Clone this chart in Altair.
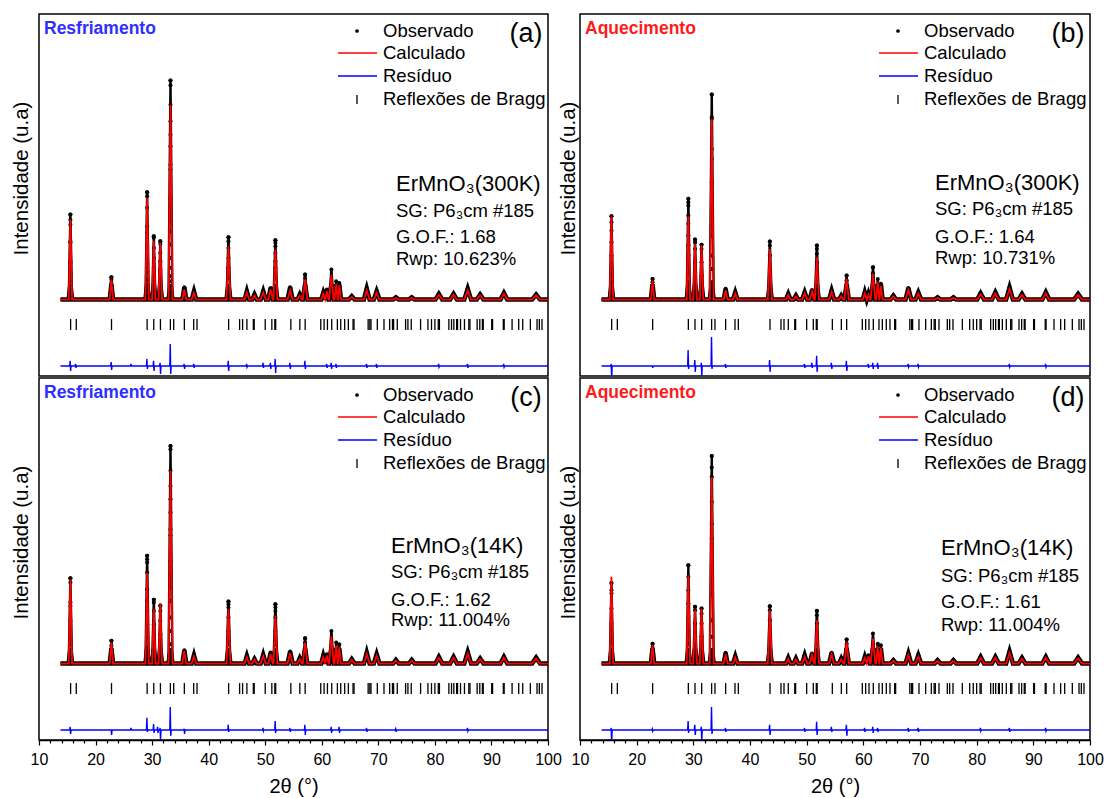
import altair as alt
import pandas as pd

FONT = "Liberation Sans, Arial, sans-serif"

# ---- peak positions (2theta) and half base widths ----
PEAKS = [15.55, 22.8, 29.12, 30.3, 31.45, 33.25, 35.7, 37.4, 43.5, 46.75, 48.1, 49.65,
         50.95, 51.8, 54.4, 56.1, 57.05, 60.25, 60.9, 61.7, 62.55, 63.1, 65.3, 67.95,
         69.7, 73.1, 75.9, 80.7, 83.3, 85.8, 88.0, 92.2, 97.9]
WIDTHS = [0.3, 0.3, 0.3, 0.3, 0.3, 0.35, 0.35, 0.4, 0.35, 0.4, 0.4, 0.45,
          0.4, 0.35, 0.45, 0.4, 0.4, 0.35, 0.3, 0.4, 0.3, 0.3, 0.5, 0.5,
          0.5, 0.5, 0.5, 0.6, 0.6, 0.6, 0.6, 0.6, 0.7]

# ---- peak intensities (arbitrary units) ----
OBS_A = [388, 102, 490, 289, 266, 1000, 56, 38, 285, 38, 23, 38, 53, 271, 56, 23, 114,
         30, 46, 137, 84, 76, 15, 50, 38, 10, 10, 26, 26, 50, 23, 30, 23]
CALC_A = [365, 91, 464, 266, 259, 890, 46, 30, 243, 32, 18, 32, 46, 228, 42, 18, 91,
          26, 40, 114, 72, 66, 12, 42, 32, 8, 8, 22, 22, 42, 19, 26, 19]
OBS_B = [380, 94, 460, 274, 250, 936, 49, 33, 265, 26, 18, 33, 44, 247, 41, 18, 110,
         33, 26, 148, 94, 72, 18, 53, 33, 10, 10, 29, 33, 56, 26, 33, 26]
CALC_B = [380, 87, 380, 254, 247, 825, 42, 28, 231, 22, 15, 28, 38, 193, 35, 15, 94,
          28, 22, 117, 80, 62, 15, 45, 28, 8, 8, 25, 28, 48, 22, 28, 22]
OBS_C = [390, 104, 492, 291, 265, 994, 61, 38, 283, 35, 20, 40, 50, 271, 55, 24, 116,
         35, 43, 149, 96, 88, 20, 50, 43, 17, 17, 30, 30, 53, 23, 30, 27]
CALC_C = [385, 97, 416, 248, 275, 880, 58, 32, 248, 30, 17, 34, 43, 218, 47, 20, 96,
          30, 37, 126, 82, 75, 17, 43, 37, 14, 14, 26, 26, 45, 20, 26, 23]
OBS_D = [368, 91, 449, 259, 251, 948, 49, 33, 262, 26, 23, 38, 46, 241, 49, 23, 110,
         30, 38, 137, 91, 84, 15, 46, 38, 15, 15, 30, 30, 56, 26, 30, 27]
CALC_D = [396, 84, 403, 244, 251, 852, 42, 28, 244, 22, 19, 32, 40, 198, 42, 19, 99,
          26, 32, 114, 78, 72, 13, 40, 32, 13, 13, 26, 26, 48, 22, 26, 23]

# ---- observed points on the flanks of the strong peaks ----
DOTS_A = [(15.55, [388, 365, 342, 266, 259, 175, 167, 122, 84, 38]),
          (22.8, [102, 91, 76, 53, 30]),
          (29.12, [490, 472, 419, 335, 304, 244, 205, 160, 129, 91, 68]),
          (30.3, [289, 282, 236, 190, 145, 99, 53]),
          (31.45, [266, 254, 213, 175, 137, 84, 38]),
          (33.25, [1000, 979, 890, 814, 753, 700, 616, 594, 461, 358, 312, 251, 190, 145, 107, 84]),
          (43.5, [285, 266, 236, 190, 145, 99, 53]),
          (51.8, [271, 259, 244, 213, 175, 145, 99, 53]),
          (57.05, [114, 99, 68, 38])]
DOTS_B = [(15.55, [380, 353, 315, 262, 201, 140, 79, 33]),
          (22.8, [94, 79, 56, 33]),
          (29.12, [460, 444, 429, 384, 346, 292, 247, 201, 140, 79]),
          (30.3, [274, 262, 231, 170, 110, 64]),
          (31.45, [250, 231, 170, 110, 49]),
          (33.25, [936, 833, 825, 688, 642, 536, 414, 292, 201, 140, 79]),
          (43.5, [265, 247, 201, 140, 79, 33]),
          (51.8, [247, 231, 209, 170, 110, 64]),
          (57.05, [110, 87, 49]),
          (61.7, [148, 120])]
DOTS_C = [(15.55, [390, 370, 279, 263, 195, 119, 88, 43]),
          (22.8, [104, 81, 43]),
          (29.12, [492, 476, 461, 416, 339, 286, 240, 180, 119, 73]),
          (30.3, [291, 279, 240, 180, 119, 58]),
          (31.45, [263, 240, 195, 134, 73]),
          (33.25, [994, 979, 880, 811, 750, 690, 613, 586, 469, 347, 286, 210, 149, 88, 43]),
          (43.5, [283, 271, 256, 210, 149, 88]),
          (51.8, [271, 256, 240, 210, 149, 88]),
          (57.05, [116, 96, 58])]
DOTS_D = [(15.55, [368, 335, 320, 251, 183, 122, 61]),
          (22.8, [91, 76, 46]),
          (29.12, [449, 396, 335, 274, 213, 152, 91, 46]),
          (30.3, [259, 244, 183, 122, 61]),
          (31.45, [251, 228, 183, 122, 61]),
          (33.25, [948, 895, 852, 738, 639, 571, 449, 320, 198, 122, 61]),
          (43.5, [262, 244, 198, 137, 76]),
          (51.8, [240, 221, 183, 122, 61]),
          (57.05, [110, 91, 46])]

# ---- residual spikes: (2theta, up, down) ----
RES_A = [(15.55, 23, 23), (16.5, 9, 9), (22.8, 18, 18), (26.3, 9, 0), (29.12, 32, 14),
         (30.3, 23, 23), (31.45, 14, 37), (33.25, 100, 37), (35.7, 9, 14), (37.4, 9, 9),
         (43.5, 23, 23), (46.75, 9, 5), (49.65, 14, 9), (50.95, 14, 14), (51.8, 32, 32),
         (54.4, 14, 14), (57.05, 23, 14), (60.9, 9, 9), (61.7, 14, 14), (62.55, 9, 9),
         (67.95, 9, 9), (69.7, 9, 9), (80.7, 9, 5), (85.8, 9, 9), (92.2, 9, 5)]
RES_B = [(15.55, 9, 60), (22.8, 0, 9), (29.12, 73, 14), (30.3, 27, 27), (31.45, 14, 46),
         (33.25, 132, 14), (35.7, 9, 9), (43.5, 27, 27), (49.65, 9, 9), (50.95, 14, 9),
         (51.8, 46, 27), (54.4, 14, 14), (57.05, 23, 23), (60.9, 9, 9), (61.7, 14, 14),
         (62.55, 14, 14), (67.95, 9, 5), (69.7, 9, 5), (85.8, 9, 5), (92.2, 9, 5)]
RES_C = [(15.55, 14, 18), (22.8, 0, 23), (26.3, 9, 0), (29.12, 55, 9), (30.3, 27, 14),
         (31.0, 14, 14), (31.45, 9, 50), (33.25, 105, 27), (35.7, 5, 18), (43.5, 23, 9),
         (49.65, 9, 5), (51.8, 41, 14), (54.4, 9, 9), (57.05, 23, 23), (61.7, 14, 14),
         (63.1, 14, 14), (67.95, 9, 9), (73.1, 5, 9), (85.8, 9, 5)]
RES_D = [(15.55, 9, 73), (22.8, 5, 5), (29.12, 41, 14), (30.3, 23, 23), (31.45, 14, 55),
         (33.25, 105, 18), (35.7, 9, 9), (43.5, 23, 23), (49.65, 9, 9), (51.8, 37, 23),
         (54.4, 14, 9), (57.05, 23, 27), (60.25, 9, 9), (61.7, 14, 14), (62.55, 9, 9),
         (67.95, 9, 9), (69.7, 9, 9), (80.7, 9, 5), (85.8, 9, 9), (92.2, 9, 5)]

# ---- Bragg reflection positions ----
BRAGG = [15.59, 16.59, 22.82, 29.12, 30.29, 31.47, 33.23, 33.82, 35.7, 37.35, 37.94,
         43.53, 45.47, 46.0, 46.76, 47.9, 48.05, 50.0, 51.17, 51.7, 51.85, 54.53, 56.12,
         57.06, 59.82, 60.41, 61.0, 61.76, 62.76, 63.35, 64.05, 64.7, 65.53, 65.7, 68.2,
         68.5, 68.7, 69.82, 71.0, 72.0, 72.5, 72.7, 73.35, 74.82, 75.23, 75.82, 77.47,
         78.77, 79.4, 80.0, 80.6, 80.8, 82.47, 82.94, 83.35, 83.85, 84.0, 84.53, 85.23,
         86.0, 86.2, 87.47, 87.94, 88.4, 88.55, 90.05, 90.2, 92.1, 92.25, 93.65, 94.82,
         95.53, 96.88, 98.06, 98.47, 98.94]

NOTES_A = ["ErMnO\u2083(300K)", "SG: P6\u2083cm #185", "G.O.F.: 1.68", "Rwp: 10.623%"]
NOTES_B = ["ErMnO\u2083(300K)", "SG: P6\u2083cm #185", "G.O.F.: 1.64", "Rwp: 10.731%"]
NOTES_C = ["ErMnO\u2083(14K)", "SG: P6\u2083cm #185", "G.O.F.: 1.62", "Rwp: 11.004%"]
NOTES_D = ["ErMnO\u2083(14K)", "SG: P6\u2083cm #185", "G.O.F.: 1.61", "Rwp: 11.004%"]

Y_DOMAIN = [-349, 1304]
RES_BASE = -303
H = 362
ONE = pd.DataFrame({"k": [0]})


def profile_df(heights):
    pts = [(13.8, 0.0), (100.0, 0.0)]
    for p, w, h in zip(PEAKS, WIDTHS, heights):
        pts += [(p - w, 0.0), (p, float(h)), (p + w, 0.0)]
    pts.sort()
    return pd.DataFrame(pts, columns=["x", "y"])


def dots_df(dots, obs):
    rows = [(p, float(h)) for p, h in zip(PEAKS, obs)]
    for p, hs in dots:
        rows += [(p, float(h)) for h in hs]
    return pd.DataFrame(rows, columns=["x", "y"])


def resid_df(spikes):
    pts = [(13.8, 0.0), (100.0, 0.0)]
    for p, up, dn in spikes:
        pts += [(p - 0.12, 0.0), (p - 0.04, float(up)), (p + 0.04, -float(dn)), (p + 0.12, 0.0)]
    pts.sort()
    df = pd.DataFrame(pts, columns=["x", "r"])
    df["y"] = RES_BASE + df["r"]
    return df


def txt(s, x, y, size=18.5, color="black", weight="normal", align="left"):
    return alt.Chart(ONE).mark_text(
        text=s, align=align, baseline="middle", font=FONT, fontSize=size,
        color=color, fontWeight=weight
    ).encode(x=alt.value(x), y=alt.value(y))


def panel(obs, calc, dots, spikes, notes, note_x, note_ys, tag, tag_color, letter,
          bottom, left_side, width):
    if bottom:
        xaxis = alt.Axis(
            title="2\u03b8 (\u00b0)", values=list(range(10, 101, 2)),
            labelExpr="datum.value % 10 === 0 ? datum.label : ''",
            tickSize={"condition": {"test": "datum.value % 10 === 0", "value": 5}, "value": 3},
            tickColor="black", tickWidth=1.2, domainColor="black", domainWidth=1.5,
            labelFlush=False, labelOverlap=False, labelPadding=6, labelFontSize=16,
            titleFontSize=20, titlePadding=9, grid=False,
        )
    else:
        xaxis = None
    X = alt.X("x:Q", scale=alt.Scale(domain=[10, 100], nice=False, zero=False), axis=xaxis)
    yaxis = alt.Axis(title="Intensidade (u.a)", labels=False, ticks=False, domain=False,
                     grid=False, titleFontSize=20.5, titleY=164,
                     titlePadding=8 if left_side else 2)
    Y = alt.Y("y:Q", scale=alt.Scale(domain=Y_DOMAIN, nice=False, zero=False), axis=yaxis)

    obs_prof = profile_df(obs)
    # dense observed band near the background (thick), thin trace through the peaks
    obs_band = alt.Chart(obs_prof).transform_calculate(
        y="min(datum.y, 70)").mark_line(
        color="black", strokeWidth=4.5, clip=True).encode(x=X, y=Y)
    obs_line = alt.Chart(obs_prof).mark_line(
        color="black", strokeWidth=2.4, clip=True).encode(x=X, y=Y)
    obs_pts = alt.Chart(dots_df(dots, obs)).mark_circle(
        color="black", size=16, opacity=1, clip=True).encode(x=X, y=Y)
    calc_line = alt.Chart(profile_df(calc)).mark_line(
        color="#FF0000", strokeWidth=1.8, clip=True).encode(x=X, y=Y)
    bragg = alt.Chart(pd.DataFrame({"x": BRAGG})).transform_calculate(
        y="-89", y2="-139").mark_rule(color="black", strokeWidth=1.3).encode(
        x=X, y=Y, y2="y2:Q")
    resid = alt.Chart(resid_df(spikes)).mark_line(
        color="#0000FF", strokeWidth=1.4, clip=True).encode(x=X, y=Y)

    layers = [obs_band, obs_line, obs_pts, calc_line, bragg, resid]
    # legend
    layers += [
        alt.Chart(ONE).mark_circle(color="black", size=14, opacity=1).encode(
            x=alt.value(318), y=alt.value(17)),
        alt.Chart(ONE).mark_rule(color="#FF0000", strokeWidth=1.6).encode(
            x=alt.value(299), x2=alt.value(338), y=alt.value(39)),
        alt.Chart(ONE).mark_rule(color="#0000FF", strokeWidth=1.6).encode(
            x=alt.value(299), x2=alt.value(338), y=alt.value(62)),
        alt.Chart(ONE).mark_rule(color="black", strokeWidth=1.3).encode(
            x=alt.value(318), y=alt.value(81), y2=alt.value(90)),
        txt("Observado", 344, 17),
        txt("Calculado", 344, 39),
        txt("Res\u00edduo", 344, 62),
        txt("Reflex\u00f5es de Bragg", 344, 85),
        txt(letter, width - 22, 20, size=27, align="center"),
        txt(tag, 5, 15, size=17.5, color=tag_color, weight="bold"),
    ]
    sizes = [22, 18.5, 18.5, 18.5]
    for s, yy, fs in zip(notes, note_ys, sizes):
        layers.append(txt(s, note_x, yy, size=fs))
    return alt.layer(*layers).properties(width=width, height=H)


BLUE = "#2E2EFF"
RED = "#FF1A1A"

pa = panel(OBS_A, CALC_A, DOTS_A, RES_A, NOTES_A, 357, [170, 197, 223, 245],
           "Resfriamento", BLUE, "(a)", False, True, 509)
pb = panel(OBS_B, CALC_B, DOTS_B, RES_B, NOTES_B, 355, [169, 195, 223, 244],
           "Aquecimento", RED, "(b)", False, False, 510)
pc = panel(OBS_C, CALC_C, DOTS_C, RES_C, NOTES_C, 352, [168, 194, 222, 242],
           "Resfriamento", BLUE, "(c)", True, True, 509)
pdd = panel(OBS_D, CALC_D, DOTS_D, RES_D, NOTES_D, 361, [170, 198, 224, 247],
            "Aquecimento", RED, "(d)", True, False, 510)

chart = alt.vconcat(
    alt.hconcat(pa, pb, spacing=32, bounds="flush"),
    alt.hconcat(pc, pdd, spacing=32, bounds="flush"),
    spacing=0,
).properties(
    padding={"left": 10, "top": 13, "right": 1, "bottom": 3}
).configure_view(
    stroke="black", strokeWidth=1.5
).configure_axis(
    labelFont=FONT, titleFont=FONT, labelColor="black", titleColor="black",
    titleFontWeight="normal"
)

chart.save("out.html", embed_options={"renderer": "svg", "actions": False})
